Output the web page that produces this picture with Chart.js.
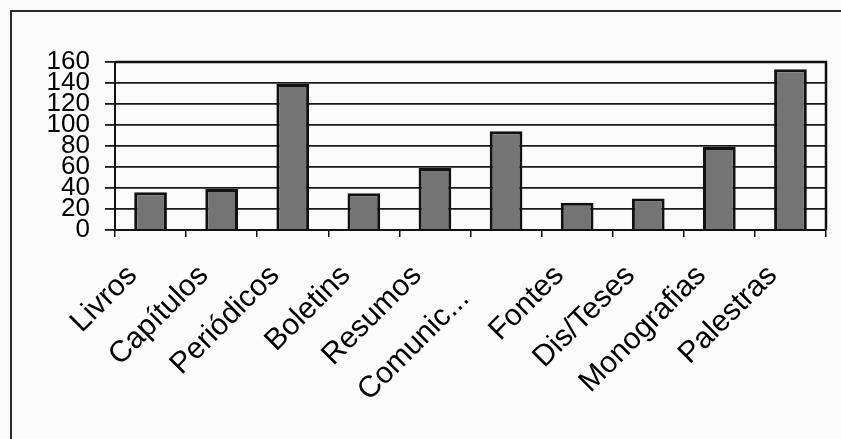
<!DOCTYPE html>
<html>
<head>
<meta charset="utf-8">
<script src="https://cdn.jsdelivr.net/npm/chart.js@4/dist/chart.umd.min.js"></script>
<style>
    html, body { margin: 0; padding: 0; background: #fbfbfb; }
    #frame {
        position: absolute; left: 10px; top: 10px;
        width: 831px; height: 429px;
        border-top: 2px solid #2a2a2a; border-left: 2px solid #2a2a2a;
    }
    #wrap { position: absolute; left: 0; top: 0; width: 829px; height: 427px; }
</style>
</head>
<body>
<div id="frame"><div id="wrap"><canvas id="c"></canvas></div></div>
<script>
// Categorias e valores
const categorias = ['Livros', 'Capítulos', 'Periódicos', 'Boletins', 'Resumos',
    'Comunic...    ', 'Fontes', 'Dis/Teses', 'Monografias', 'Palestras'];
const valores = [36, 39, 139, 35, 59, 94, 26, 30, 79, 153];
const yMin = 0;
const yMax = 160;
const yPasso = 20;

// Moldura da área de plotagem (topo e direita)
const plotFrame = {
    id: 'plotFrame',
    afterDraw(chart) {
        const a = chart.chartArea;
        const ctx = chart.ctx;
        ctx.save();
        ctx.strokeStyle = '#111';
        ctx.lineWidth = 2.5;
        ctx.beginPath();
        ctx.moveTo(a.left, a.top);
        ctx.lineTo(a.right, a.top);
        ctx.lineTo(a.right, a.bottom);
        ctx.stroke();
        ctx.restore();
    }
};

const ctx = document.getElementById('c').getContext('2d');
new Chart(ctx, {
    type: 'bar',
    data: {
        labels: categorias,
        datasets: [{
            data: valores,
            backgroundColor: '#747474',
            borderColor: '#111',
            borderWidth: 3,
            barPercentage: 0.46,
            categoryPercentage: 1
        }]
    },
    options: {
        responsive: true,
        maintainAspectRatio: false,
        animation: false,
        layout: { padding: { top: 50, right: 15, left: 0, bottom: 0 } },
        plugins: {
            legend: { display: false },
            tooltip: { enabled: false }
        },
        scales: {
            x: {
                afterFit: function(s) { s.height = 209; },
                grid: {
                    drawOnChartArea: false,
                    tickLength: 7,
                    color: '#111',
                    lineWidth: 1.5
                },
                border: { color: '#111', width: 2 },
                ticks: {
                    minRotation: 45,
                    maxRotation: 45,
                    autoSkip: false,
                    padding: 21,
                    labelOffset: -18,
                    color: '#000',
                    font: { family: 'Liberation Sans, Arial, sans-serif', size: 30 }
                }
            },
            y: {
                min: yMin,
                max: yMax,
                afterFit: function(s) { s.width = 103; },
                grid: {
                    tickLength: 10,
                    color: '#1a1a1a',
                    lineWidth: 1.8
                },
                border: { color: '#111', width: 2 },
                ticks: {
                    stepSize: yPasso,
                    autoSkip: false,
                    padding: 15,
                    color: '#000',
                    font: { family: 'Liberation Sans, Arial, sans-serif', size: 26, lineHeight: 0.8 }
                }
            }
        }
    },
    plugins: [plotFrame]
});
</script>
</body>
</html>
